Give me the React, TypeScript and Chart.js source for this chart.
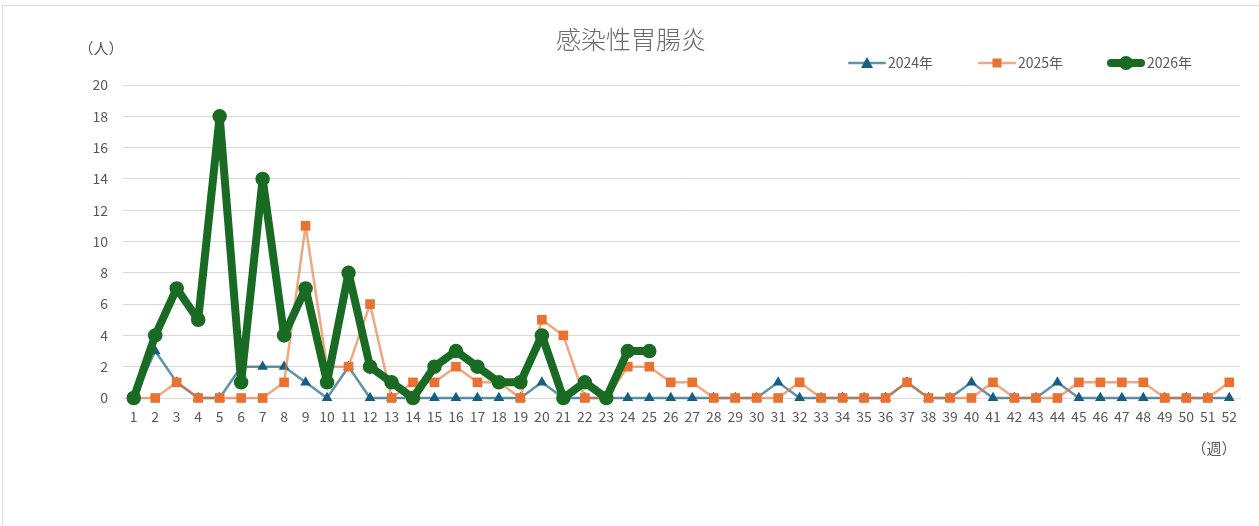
import React, { useEffect, useRef } from "react";
import { Chart, registerables } from "chart.js";

Chart.register(...registerables);

const weeks: string[] = Array.from({ length: 52 }, (_, i) => String(i + 1));
const yTicks: number[] = [0, 2, 4, 6, 8, 10, 12, 14, 16, 18, 20];

const series2024: (number | null)[] = [
  0, 3, 1, 0, 0, 2, 2, 2, 1, 0, 2, 0, 0, 0, 0, 0, 0, 0, 0, 1, 0, 0, 0, 0, 0, 0,
  0, 0, 0, 0, 1, 0, 0, 0, 0, 0, 1, 0, 0, 1, 0, 0, 0, 1, 0, 0, 0, 0, 0, 0, 0, 0,
];
const series2025: (number | null)[] = [
  0, 0, 1, 0, 0, 0, 0, 1, 11, 2, 2, 6, 0, 1, 1, 2, 1, 1, 0, 5, 4, 0, 0, 2, 2, 1,
  1, 0, 0, 0, 0, 1, 0, 0, 0, 0, 1, 0, 0, 0, 1, 0, 0, 0, 1, 1, 1, 1, 0, 0, 0, 1,
];
const series2026: (number | null)[] = [
  0, 4, 7, 5, 18, 1, 14, 4, 7, 1, 8, 2, 1, 0, 2, 3, 2, 1, 1, 4, 0, 1, 0, 3, 3,
];

const seriesLabels = ["2024年", "2025年", "2026年"];
const titleText = "感染性胃腸炎";
const yUnit = "（人）";
const xUnit = "（週）";

const FONT = "'Noto Sans CJK JP', 'Noto Sans', sans-serif";
const TEXT = "#595959";

const legendPlugin = {
  id: "customLegend",
  afterDraw(chart: any) {
    const ctx = chart.ctx;
    ctx.save();
    // title
    ctx.fillStyle = "#6b6b6b";
    ctx.font = `300 25px ${FONT}`;
    ctx.textAlign = "center";
    ctx.textBaseline = "middle";
    ctx.fillText(titleText, 631, 39);
    // unit labels
    ctx.fillStyle = TEXT;
    ctx.font = `15px ${FONT}`;
    ctx.fillText(yUnit, 101, 48);
    ctx.fillText(xUnit, 1214, 448);
    // legend
    const starts = [848, 978, 1107];
    const lineLen = 38;
    const y = 63;
    chart.data.datasets.forEach((ds: any, i: number) => {
      const x0 = starts[i];
      ctx.strokeStyle = ds.borderColor;
      ctx.lineWidth = ds.borderWidth;
      ctx.lineCap = "round";
      ctx.beginPath();
      ctx.moveTo(x0 + ds.borderWidth / 2, y);
      ctx.lineTo(x0 + lineLen - ds.borderWidth / 2, y);
      ctx.stroke();
      const cx = x0 + lineLen / 2;
      ctx.fillStyle = ds.pointBackgroundColor;
      ctx.beginPath();
      if (ds.pointStyle === "triangle") {
        ctx.moveTo(cx, y - 6);
        ctx.lineTo(cx + 6, y + 5);
        ctx.lineTo(cx - 6, y + 5);
        ctx.closePath();
      } else if (ds.pointStyle === "rect") {
        ctx.rect(cx - 4.5, y - 4.5, 9, 9);
      } else {
        ctx.arc(cx, y, 7, 0, Math.PI * 2);
      }
      ctx.fill();
      ctx.fillStyle = TEXT;
      ctx.font = `14px ${FONT}`;
      ctx.textAlign = "left";
      ctx.textBaseline = "middle";
      ctx.fillText(seriesLabels[i], x0 + lineLen + 2, y);
    });
    ctx.restore();
  },
};

export default function App() {
  const ref = useRef<HTMLCanvasElement | null>(null);
  useEffect(() => {
    if (!ref.current) return;
    const chart = new Chart(ref.current, {
      type: "line",
      data: {
        labels: weeks,
        datasets: [
          {
            label: seriesLabels[0],
            data: series2024,
            borderColor: "rgba(21,96,130,0.68)",
            borderWidth: 2.5,
            borderJoinStyle: "round",
            pointStyle: "triangle",
            pointRadius: 6.2,
            pointBackgroundColor: "#156082",
            pointBorderColor: "#156082",
            pointBorderWidth: 0,
            tension: 0,
            clip: false,
            order: 2,
          },
          {
            label: seriesLabels[1],
            data: series2025,
            borderColor: "rgba(233,113,50,0.62)",
            borderWidth: 2.5,
            borderJoinStyle: "round",
            pointStyle: "rect",
            pointRadius: 6.8,
            pointBackgroundColor: "#E97132",
            pointBorderColor: "#E97132",
            pointBorderWidth: 0,
            tension: 0,
            clip: false,
            order: 1,
          },
          {
            label: seriesLabels[2],
            data: series2026,
            borderColor: "#196B24",
            borderWidth: 8,
            borderJoinStyle: "round",
            borderCapStyle: "round",
            pointStyle: "circle",
            pointRadius: 6.5,
            pointBackgroundColor: "#196B24",
            pointBorderColor: "#196B24",
            pointBorderWidth: 1.5,
            tension: 0,
            clip: false,
            order: 0,
          },
        ],
      },
      options: {
        responsive: false,
        animation: false,
        layout: { padding: { left: 0, right: 19, top: 85, bottom: 88 } },
        plugins: {
          legend: { display: false },
          title: { display: false },
          tooltip: { enabled: false },
        },
        scales: {
          x: {
            offset: true,
            grid: { display: false, drawTicks: false },
            border: { display: true, color: "#d9d9d9", width: 1 },
            ticks: {
              color: TEXT,
              font: { family: FONT, size: 14 },
              padding: 10,
              maxRotation: 0,
              autoSkip: false,
            },
            afterFit: (s: any) => {
              s.height = 40;
            },
          },
          y: {
            min: 0,
            max: 20,
            afterBuildTicks: (s: any) => {
              s.ticks = yTicks.map((v) => ({ value: v }));
            },
            grid: { color: "#d9d9d9", lineWidth: 1, drawTicks: false },
            border: { display: false },
            ticks: {
              color: TEXT,
              font: { family: FONT, size: 14 },
              padding: 15,
            },
            afterFit: (s: any) => {
              s.width = 123;
            },
          },
        },
      },
      plugins: [legendPlugin],
    });
    return () => chart.destroy();
  }, []);
  return (
    <div
      style={{
        position: "fixed",
        left: 0,
        top: 0,
        width: 1259,
        height: 526,
        background: "#fff",
      }}
    >
      <div
        style={{
          position: "absolute",
          left: 2,
          top: 5,
          right: -2,
          bottom: -2,
          borderLeft: "1px solid #d9d9d9",
          borderTop: "1px solid #d9d9d9",
        }}
      />
      <canvas
        ref={ref}
        width={1259}
        height={526}
        style={{ position: "absolute", left: 0, top: 0, width: 1259, height: 526 }}
      />
    </div>
  );
}
